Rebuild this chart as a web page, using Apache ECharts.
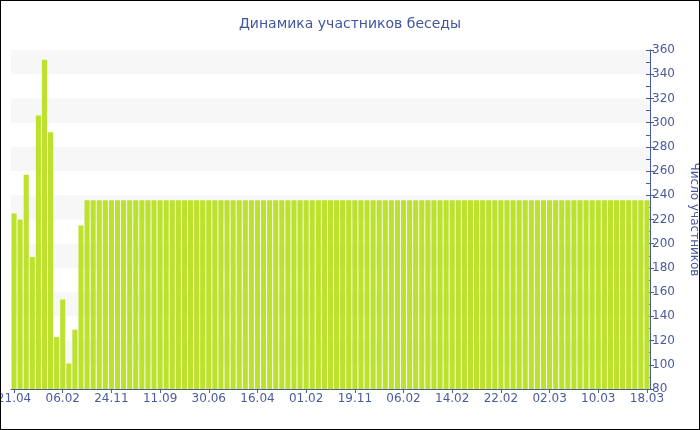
<!DOCTYPE html>
<html>
<head>
<meta charset="utf-8">
<script src="https://cdn.jsdelivr.net/npm/echarts@6/dist/echarts.min.js"></script>
<style>
html,body{margin:0;padding:0;background:#fff;}
#wrap{position:relative;width:700px;height:430px;}
#chart{position:absolute;left:0;top:0;width:700px;height:430px;}
#frame{position:absolute;left:0;top:0;width:700px;height:430px;box-sizing:border-box;border:1px solid #000;pointer-events:none;}
</style>
</head>
<body>
<div id="wrap"><div id="chart"></div><div id="frame"></div></div>
<script>
var titleText = 'Динамика участников беседы';
var yAxisName = 'Число участников';

var categories = [
  '21.04','27.05','03.07','08.08','14.09','20.10','26.11','01.01',
  '06.02','14.03','20.04','26.05','02.07','07.08','13.09','19.10',
  '24.11','30.12','05.02','12.03','18.04','24.05','30.06','05.08',
  '11.09','17.10','23.11','29.12','04.02','12.03','18.04','24.05',
  '30.06','05.08','11.09','17.10','22.11','28.12','03.02','11.03',
  '16.04','22.05','28.06','03.08','09.09','15.10','21.11','27.12',
  '01.02','09.03','15.04','21.05','27.06','02.08','08.09','14.10',
  '19.11','29.11','09.12','19.12','29.12','08.01','18.01','28.01',
  '06.02','07.02','08.02','09.02','10.02','11.02','12.02','13.02',
  '14.02','15.02','16.02','17.02','18.02','19.02','20.02','21.02',
  '22.02','23.02','24.02','25.02','26.02','27.02','28.02','01.03',
  '02.03','03.03','04.03','05.03','06.03','07.03','08.03','09.03',
  '10.03','11.03','12.03','13.03','14.03','15.03','16.03','17.03',
  '18.03'
];

var participants = [
  225, 220, 257, 189, 306, 352, 292, 123, 154, 101, 129, 215,
  236, 236, 236, 236, 236, 236, 236, 236, 236, 236,
  236, 236, 236, 236, 236, 236, 236, 236, 236, 236,
  236, 236, 236, 236, 236, 236, 236, 236, 236, 236,
  236, 236, 236, 236, 236, 236, 236, 236, 236, 236,
  236, 236, 236, 236, 236, 236, 236, 236, 236, 236,
  236, 236, 236, 236, 236, 236, 236, 236, 236, 236,
  236, 236, 236, 236, 236, 236, 236, 236, 236, 236,
  236, 236, 236, 236, 236, 236, 236, 236, 236, 236,
  236, 236, 236, 236, 236, 236, 236, 236, 236, 236,
  236, 236, 236
];

var yMin = 80, yMax = 360, yStep = 20;

var axisBlue = '#4a5a9e';
var fontFam = '"DejaVu Sans", Verdana, sans-serif';

var chart = echarts.init(document.getElementById('chart'), null, {renderer: 'canvas'});
chart.setOption({
  animation: false,
  backgroundColor: '#fff',
  title: {
    text: titleText,
    left: 'center',
    top: 12,
    textStyle: {color: '#4057a0', fontFamily: fontFam, fontSize: 14, fontWeight: 'normal'}
  },
  grid: {left: 11, right: 50, top: 50, bottom: 41, containLabel: false, outerBoundsMode: 'none'},
  xAxis: {
    type: 'category',
    data: categories,
    boundaryGap: true,
    axisLine: {show: true, lineStyle: {color: axisBlue, width: 1}},
    axisTick: {show: true, alignWithLabel: true, interval: 7, length: 4, lineStyle: {color: axisBlue}},
    axisLabel: {interval: 7, color: axisBlue, fontFamily: fontFam, fontSize: 12, margin: 4, hideOverlap: false},
    splitLine: {show: false}
  },
  yAxis: [{
    type: 'value',
    position: 'right',
    min: yMin, max: yMax, interval: yStep,
    name: yAxisName,
    nameLocation: 'middle',
    nameRotate: -90,
    nameGap: 38,
    nameTextStyle: {color: axisBlue, fontFamily: fontFam, fontSize: 12},
    axisLine: {show: true, lineStyle: {color: axisBlue, width: 1}},
    axisTick: {show: true, length: 4, lineStyle: {color: axisBlue}},
    minorTick: {show: false},
    axisLabel: {color: axisBlue, fontFamily: fontFam, fontSize: 12, margin: 2},
    splitLine: {show: false},
    splitArea: {show: true, areaStyle: {color: ['rgba(255,255,255,0)', '#f7f7f7']}}
  }, {
    type: 'value',
    position: 'right',
    min: yMin, max: yMax, interval: yStep,
    axisLine: {show: false},
    axisTick: {show: true, inside: true, length: 4, lineStyle: {color: axisBlue}},
    minorTick: {show: true, splitNumber: 2, length: 4, lineStyle: {color: axisBlue}},
    axisLabel: {show: false},
    splitLine: {show: false},
    splitArea: {show: false}
  }],
  series: [{
    type: 'bar',
    data: participants,
    yAxisIndex: 0,
    barCategoryGap: '16%',
    itemStyle: {color: '#bde22e'}
  }]
});
</script>
</body>
</html>
